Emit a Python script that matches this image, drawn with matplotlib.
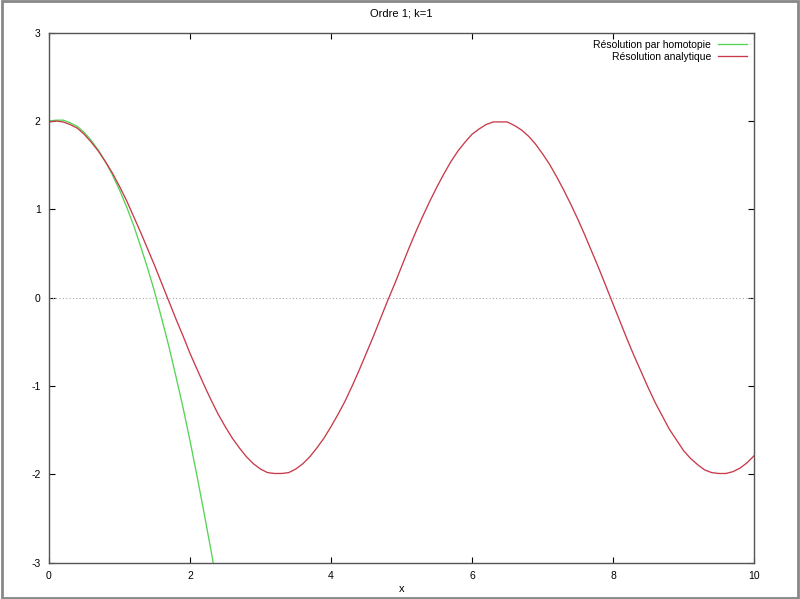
import matplotlib
matplotlib.use("Agg")
import matplotlib.pyplot as plt
from matplotlib.patches import Rectangle

plt.rcParams['font.family'] = ['Liberation Sans', 'DejaVu Sans']
plt.rcParams['axes.unicode_minus'] = False

# valeurs (pas de 0.1 en x)
x_homotopie = [round(0.1 * i, 1) for i in range(25)]
y_homotopie = [2.00, 2.01, 2.01, 1.98, 1.94, 1.87, 1.78, 1.67, 1.54, 1.39,
               1.22, 1.03, 0.82, 0.58, 0.33, 0.06, -0.24, -0.55, -0.89, -1.24,
               -1.62, -2.02, -2.44, -2.87, -3.33]

x_analytique = [round(0.1 * i, 1) for i in range(101)]
y_analytique = [1.99, 2.00, 1.99, 1.96, 1.92, 1.85, 1.76, 1.66, 1.54, 1.41,
                1.26, 1.10, 0.92, 0.74, 0.55, 0.36, 0.16, -0.04, -0.24, -0.43,
                -0.63, -0.81, -0.99, -1.16, -1.32, -1.46, -1.59, -1.70, -1.80, -1.88,
                -1.94, -1.98, -1.99, -1.99, -1.98, -1.94, -1.88, -1.80, -1.70, -1.59,
                -1.46, -1.32, -1.17, -1.00, -0.82, -0.63, -0.44, -0.24, -0.04, 0.15,
                0.35, 0.55, 0.74, 0.92, 1.09, 1.25, 1.40, 1.54, 1.66, 1.76,
                1.85, 1.91, 1.96, 1.99, 1.99, 1.99, 1.95, 1.90, 1.83, 1.74,
                1.63, 1.51, 1.37, 1.22, 1.06, 0.89, 0.71, 0.52, 0.33, 0.13,
                -0.07, -0.27, -0.47, -0.66, -0.84, -1.02, -1.19, -1.34, -1.49, -1.61,
                -1.73, -1.82, -1.89, -1.95, -1.98, -1.99, -1.99, -1.97, -1.93, -1.87,
                -1.79]

x_ticks = [0, 2, 4, 6, 8, 10]
y_ticks = [-3, -2, -1, 0, 1, 2, 3]

fig = plt.figure(figsize=(8, 5.99), dpi=100)
ax = fig.add_axes([0.06125, 0.0606, 0.88125, 0.8848])

# cadre gris autour de l'image
fig.patches.append(Rectangle((0.002, 0.002), 0.996, 0.996, transform=fig.transFigure,
                             fill=False, edgecolor="#888888", linewidth=2))

ax.axhline(0, color="#aaaaaa", linestyle=(0, (1, 2)), linewidth=0.8)
ax.plot(x_homotopie, y_homotopie, color="#55d455", linewidth=0.95, label="Résolution par homotopie")
ax.plot(x_analytique, y_analytique, color="#c83a4a", linewidth=0.95, label="Résolution analytique")

ax.set_xlim(0, 10)
ax.set_ylim(-3, 3)
ax.set_xticks(x_ticks)
ax.set_yticks(y_ticks)
ax.tick_params(direction="in", top=True, right=True, labelsize=7.5, length=4, width=0.8, pad=6)
for s in ax.spines.values():
    s.set_color("#555555")
    s.set_linewidth(1)

ax.set_title("Ordre 1; k=1", fontsize=8, pad=12)
ax.set_xlabel("x", fontsize=8, labelpad=2)

ax.legend(loc="upper right", frameon=False, fontsize=7.5, markerfirst=False,
          handlelength=2.8, borderaxespad=0.3, labelspacing=0.2, handletextpad=0.6)

fig.savefig("out.png", dpi=100)
